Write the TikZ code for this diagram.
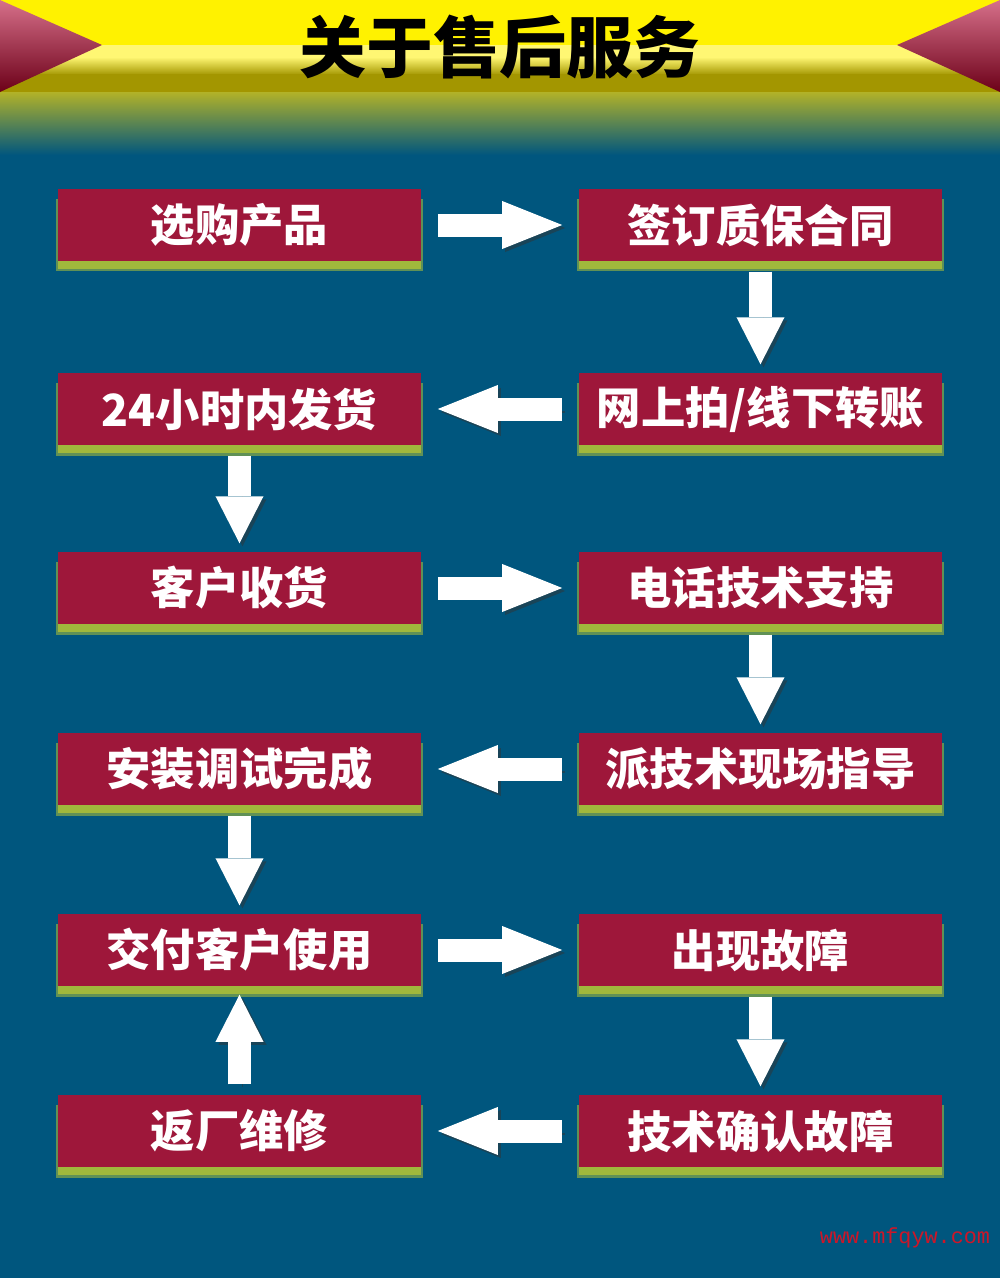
\documentclass[tikz,border=0pt]{standalone}
\usepackage{fontspec}
\newfontfamily\cjk{Noto Sans CJK SC}
\newfontfamily\webmono{Liberation Mono}
\usetikzlibrary{arrows.meta,shadows}

\definecolor{bgblue}{RGB}{0,86,126}
\definecolor{boxred}{RGB}{158,23,58}
\definecolor{glowgreen}{RGB}{160,184,60}
\definecolor{headyellow}{RGB}{255,242,0}
\definecolor{lightyellow}{RGB}{255,247,115}
\definecolor{oliveyellow}{RGB}{163,150,0}
\definecolor{olivegreen}{RGB}{178,178,40}
\definecolor{wedgepink}{RGB}{214,112,138}
\definecolor{wedgedark}{RGB}{108,0,24}
\definecolor{webred}{RGB}{205,22,40}

\begin{document}
\begin{tikzpicture}[x=0.01cm, y=-0.01cm,
    stepbox/.style={fill=boxred, minimum width=3.63cm, minimum height=0.72cm,
        inner sep=0pt, text=white, font=\cjk\bfseries\fontsize{12.6}{14}\selectfont,
        drop shadow={fill=glowgreen!60!bgblue, opacity=1, shadow xshift=0cm, shadow yshift=-0.1cm, shadow scale=1.01},
        drop shadow={fill=glowgreen, opacity=1, shadow xshift=0cm, shadow yshift=-0.08cm}},
    flowline/.style={draw=white, line width=0.23cm,
        preaction={draw=black!80, opacity=0.5, transform canvas={xshift=0.03cm, yshift=-0.03cm}}},
    harrow/.style={flowline, shorten <=0.16cm, shorten >=0.16cm,
        -{Triangle[length=0.6cm, width=0.48cm, line width=0pt]}},
    varrow/.style={flowline, shorten <=0.1cm, shorten >=0.08cm,
        -{Triangle[length=0.47cm, width=0.48cm, line width=0pt]}}]

    % Background and page size
    \useasboundingbox (0,0) rectangle (1000,1278);
    \fill[bgblue] (0,0) rectangle (1000,1278);

    % Draw the header band
    \fill[headyellow] (0,0) rectangle (1000,46);
    \fill[lightyellow] (0,45) rectangle (1000,58);
    \shade[top color=lightyellow, bottom color=oliveyellow] (0,57) rectangle (1000,75);
    \fill[oliveyellow] (0,74) rectangle (1000,93);
    \shade[top color=olivegreen, bottom color=bgblue] (0,92) rectangle (1000,155);

    % Draw the two wedges
    \shade[top color=wedgepink, bottom color=wedgedark] (0,0) -- (102,45) -- (0,92) -- cycle;
    \shade[top color=wedgepink, bottom color=wedgedark] (1000,0) -- (897,45) -- (1000,92) -- cycle;

    % Title
    \node[font=\cjk\bfseries\fontsize{19}{22}\selectfont] (title) at (500,47) {关于售后服务};

    % Define the steps
    \node[stepbox] (buy) at (239.5,225) {选购产品};
    \node[stepbox] (contract) at (760.5,225) {签订质保合同};
    \node[stepbox] (pay) at (760.5,409) {网上拍/线下转账};
    \node[stepbox] (ship) at (239.5,409) {24小时内发货};
    \node[stepbox] (receive) at (239.5,588) {客户收货};
    \node[stepbox] (phone) at (760.5,588) {电话技术支持};
    \node[stepbox] (onsite) at (760.5,769) {派技术现场指导};
    \node[stepbox] (install) at (239.5,769) {安装调试完成};
    \node[stepbox] (deliver) at (239.5,950) {交付客户使用};
    \node[stepbox] (fault) at (760.5,950) {出现故障};
    \node[stepbox] (confirm) at (760.5,1131) {技术确认故障};
    \node[stepbox] (repair) at (239.5,1131) {返厂维修};

    % Draw the arrows
    \draw[harrow] (buy) -- (contract);
    \draw[varrow] (contract) -- (pay);
    \draw[harrow] (pay) -- (ship);
    \draw[varrow] (ship) -- (receive);
    \draw[harrow] (receive) -- (phone);
    \draw[varrow] (phone) -- (onsite);
    \draw[harrow] (onsite) -- (install);
    \draw[varrow] (install) -- (deliver);
    \draw[harrow] (deliver) -- (fault);
    \draw[varrow] (fault) -- (confirm);
    \draw[harrow] (confirm) -- (repair);
    \draw[varrow] (repair) -- (deliver);

    % Web address
    \node[text=webred, font=\webmono\fontsize{6.2}{7}\selectfont] (web) at (905,1238) {www.mfqyw.com};

\end{tikzpicture}
\end{document}
